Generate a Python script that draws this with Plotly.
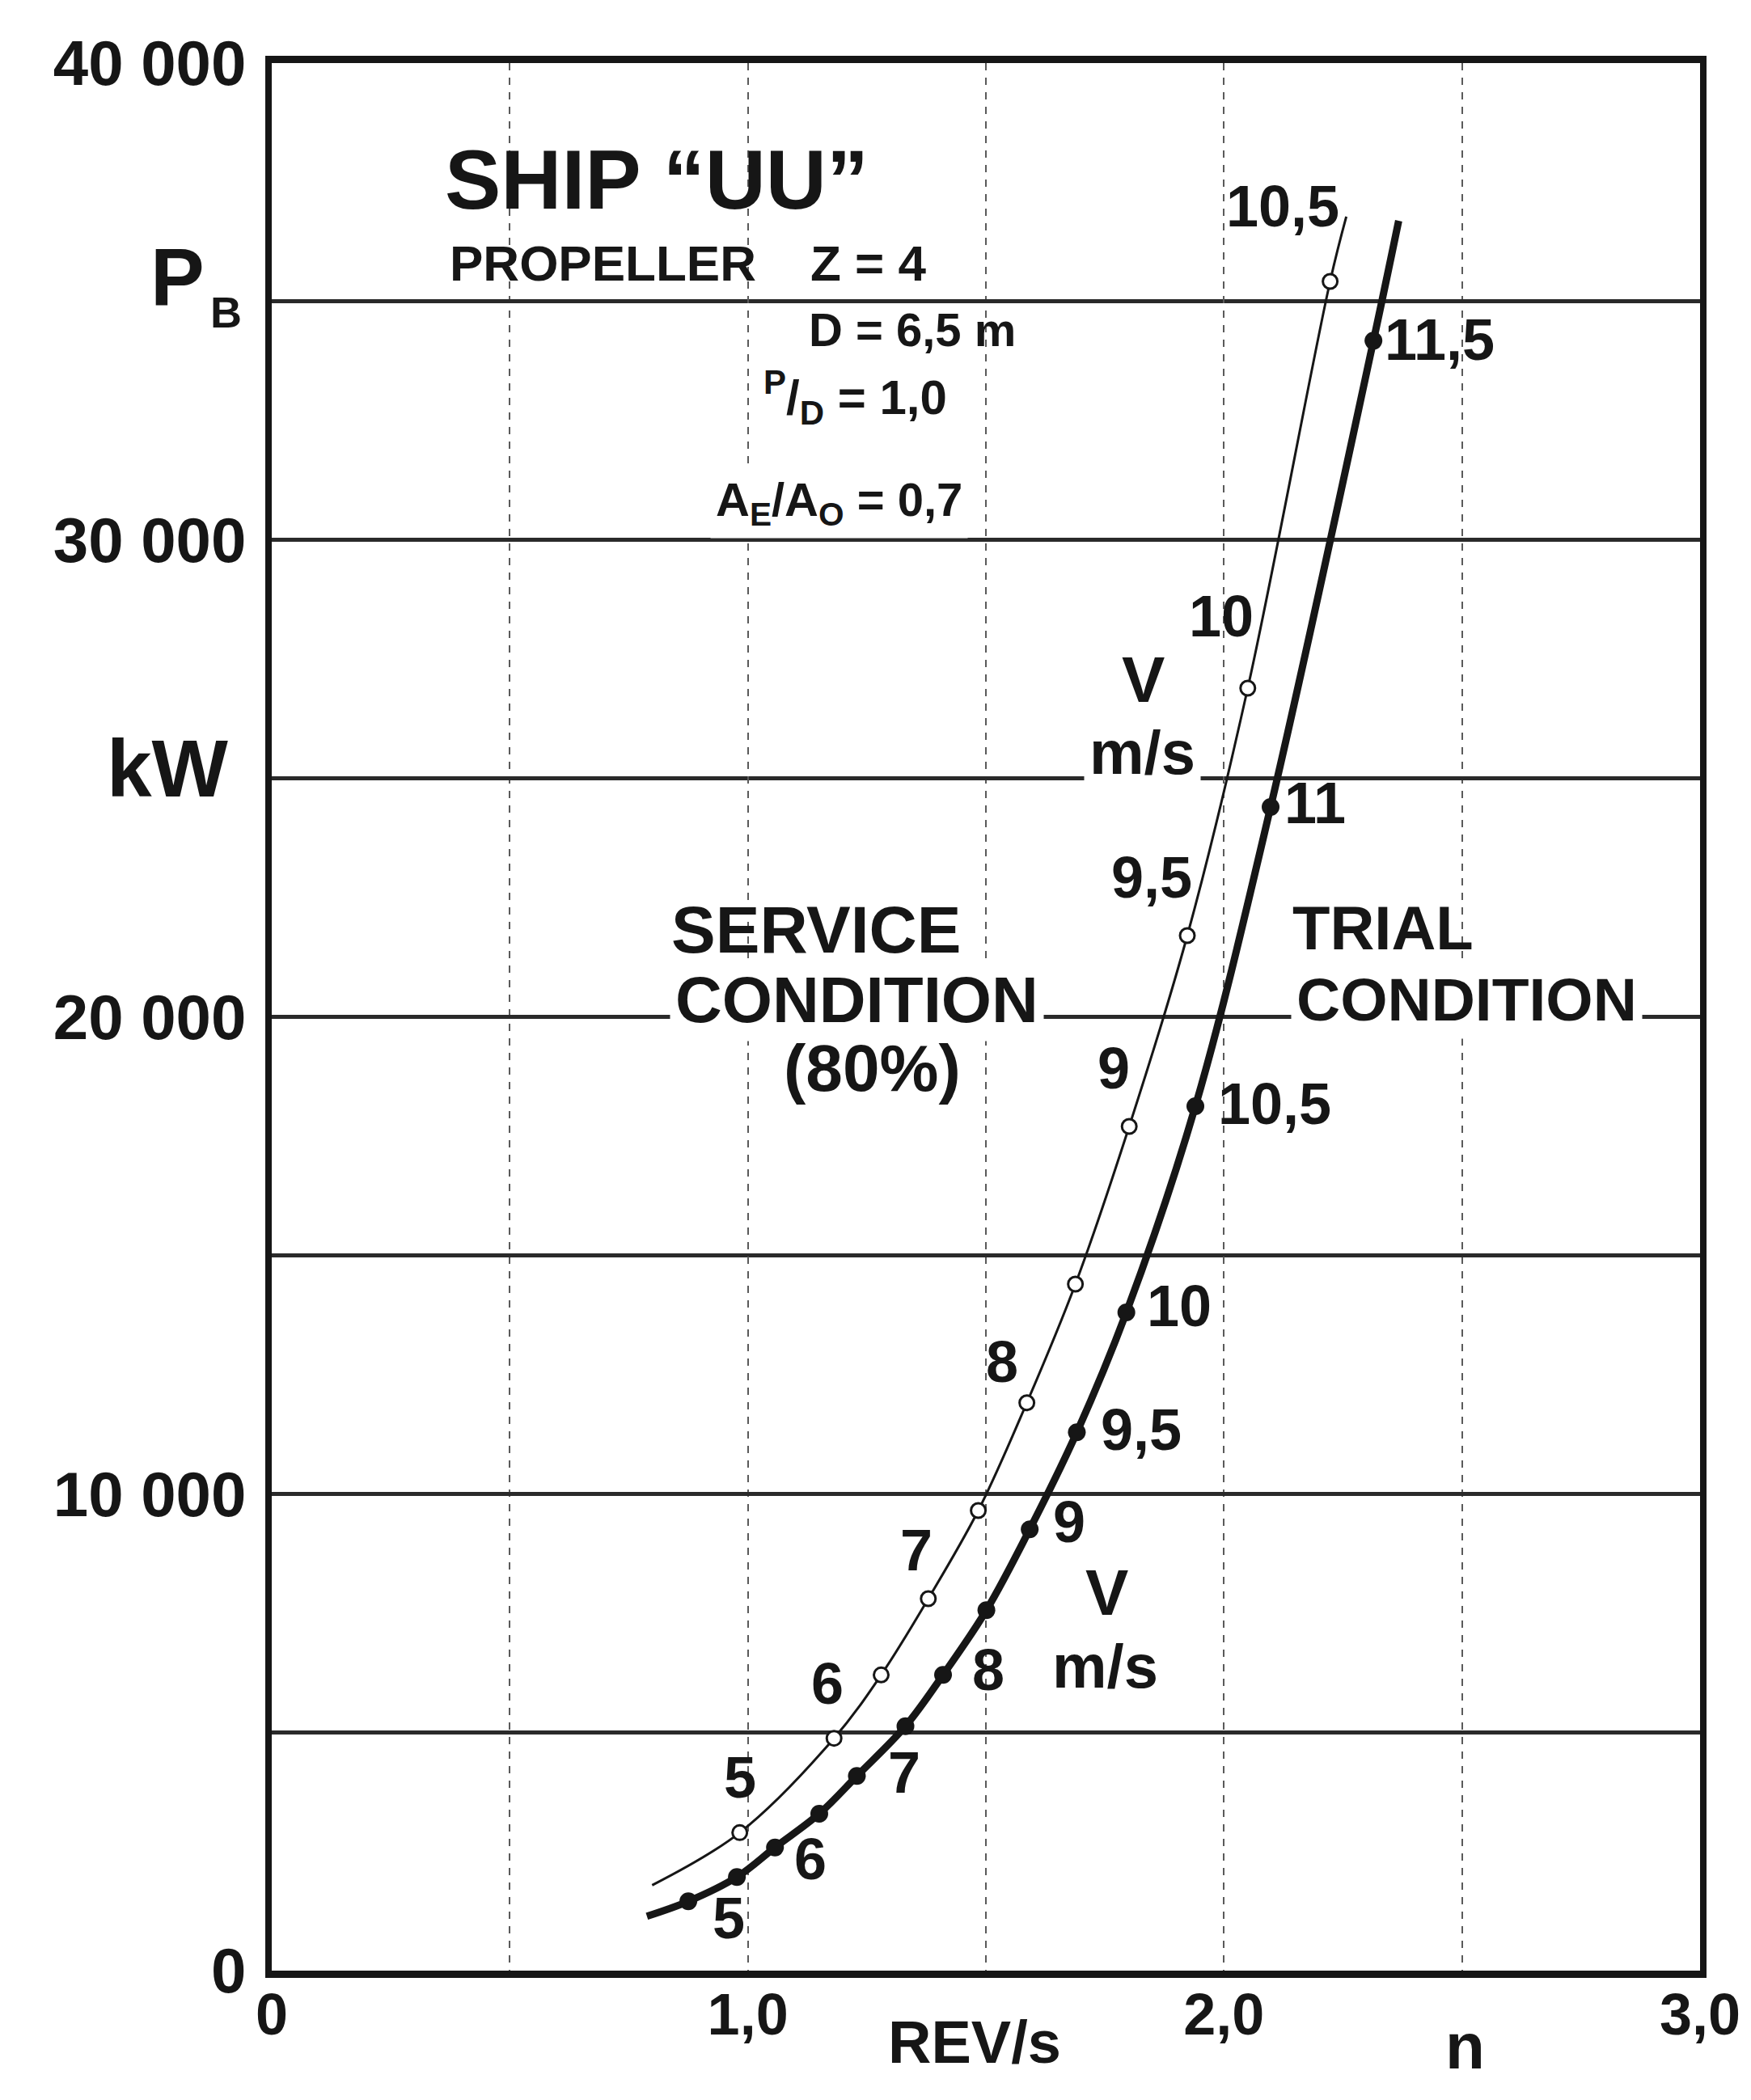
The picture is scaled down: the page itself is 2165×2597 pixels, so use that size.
import plotly.graph_objects as go

# ---------------- data ----------------
# Service condition (80%) : open markers, thin curve
service_n = [0.983, 1.181, 1.280, 1.379, 1.484, 1.586, 1.688, 1.801, 1.923, 2.050, 2.223]
service_P = [2894, 4872, 6201, 7800, 9648, 11908, 14396, 17703, 21704, 26893, 35422]
service_v = ["5", "6", "", "7", "", "8", "", "9", "9,5", "10", "10,5"]
service_curve_n = [0.799] + service_n + [2.257]
service_curve_P = [1792] + service_P + [36779]

# Trial condition : filled markers, thick curve
trial_n = [0.875, 0.977, 1.057, 1.150, 1.229, 1.331, 1.410, 1.501, 1.592, 1.691,
           1.795, 1.940, 2.098, 2.314]
trial_P = [1453, 1962, 2583, 3290, 4081, 5126, 6201, 7557, 9253, 11288,
           13802, 18126, 24400, 34178]
trial_v = ["5", "", "6", "", "7", "", "8", "", "9", "9,5", "10", "10,5", "11", "11,5"]
trial_curve_n = [0.788] + trial_n + [2.367]
trial_curve_P = [1141] + trial_P + [36694]

# axes
x_tickvals = [0, 1.0, 2.0, 3.0]
x_ticktext = ["0", "1,0", "2,0", "3,0"]
x_grid_step = 0.5
y_tickvals = [0, 10000, 20000, 30000, 40000]
y_ticktext = ["0", "10 000", "20 000", "30 000", "40 000"]
y_grid_step = 5000

# ---------------- layout / style ----------------
W, H = 2165, 2597
PL, PR, PT, PB = 328, 2094, 70, 2429
XMAX, YMAX = 3.0, 40000
TEXT_LIFT = 8  # px, compensates text-box centre vs cap centre

FONT = "Liberation Sans, Arial, sans-serif"
INK = "#161616"


def paper(px, py):
    return (px - PL) / (PR - PL), (PB - py) / (PB - PT)


# label offsets (pixels, screen: +dx right, +dy down) keyed by speed label
service_off = {"5": (0, -60), "6": (-8, -60), "7": (-15, -52), "8": (-31, -43),
               "9": (-19, -64), "9,5": (-44, -64), "10": (-33, -81), "10,5": (-59, -85)}
trial_off = {"5": (50, 29), "6": (44, 22), "7": (59, 4), "8": (56, 2), "9": (49, -1),
             "9,5": (80, 5), "10": (65, 0), "10,5": (98, 5), "11": (55, 3), "11,5": (82, 7)}

fig = go.Figure()

fig.add_trace(go.Scatter(x=service_curve_n, y=service_curve_P, mode="lines",
                         line=dict(color=INK, width=3, shape="spline", smoothing=1.0),
                         hoverinfo="skip"))
fig.add_trace(go.Scatter(x=trial_curve_n, y=trial_curve_P, mode="lines",
                         line=dict(color=INK, width=9, shape="spline", smoothing=1.0),
                         hoverinfo="skip"))
fig.add_trace(go.Scatter(x=service_n, y=service_P, mode="markers",
                         marker=dict(symbol="circle", size=18, color="white",
                                     line=dict(color=INK, width=3))))
fig.add_trace(go.Scatter(x=trial_n, y=trial_P, mode="markers",
                         marker=dict(symbol="circle", size=22, color=INK,
                                     line=dict(color=INK, width=0))))

LABEL_SIZE = 72
annotations = []
for ns, ps, vs, offs in ((service_n, service_P, service_v, service_off),
                         (trial_n, trial_P, trial_v, trial_off)):
    for n, p, v in zip(ns, ps, vs):
        if v:
            dx, dy = offs[v]
            annotations.append(dict(x=n, y=p, text=v, showarrow=False, xanchor="center",
                                    yanchor="middle", xshift=dx, yshift=-dy + TEXT_LIFT,
                                    font=dict(family=FONT, size=LABEL_SIZE, color=INK,
                                              weight="bold")))

texts = [
    # text, px, py, size, xanchor, white background
    ("SHIP \u201cUU\u201d", 540, 222, 104, "left", False),
    ("PROPELLER", 546, 326, 62, "left", False),
    ("Z = 4", 992, 326, 62, "left", False),
    ("D = 6,5 m", 990, 407, 58, "left", False),
    ("<sup>P</sup>/<sub>D</sub> = 1,0", 934, 492, 60, "left", False),
    ("A<sub>E</sub>/A<sub>O</sub> = 0,7", 870, 622, 58, "left", True),
    ("SERVICE", 820, 1149, 82, "left", False),
    ("CONDITION", 820, 1236, 80, "left", True),
    ("(80%)", 959, 1320, 82, "left", False),
    ("TRIAL", 1588, 1147, 76, "left", False),
    ("CONDITION", 1588, 1236, 75, "left", True),
    ("V", 1405, 840, 80, "center", False),
    ("m/s", 1404, 930, 76, "center", True),
    ("V", 1360, 1970, 80, "center", False),
    ("m/s", 1358, 2060, 76, "center", False),
    ("P", 176, 342, 100, "left", False),
    ("B", 250, 386, 54, "left", False),
    ("kW", 199, 950, 100, "center", False),
    ("REV/s", 1197, 2525, 74, "center", False),
    ("n", 1803, 2530, 80, "center", False),
]
for t, px, py, sz, xa, bg in texts:
    x, y = paper(px, py - TEXT_LIFT)
    a = dict(x=x, y=y, xref="paper", yref="paper", text=t, showarrow=False,
             xanchor=xa, yanchor="middle",
             font=dict(family=FONT, size=sz, color=INK, weight="bold"))
    if bg:
        a["bgcolor"] = "white"
        a["borderpad"] = 6
    annotations.append(a)

fig.update_layout(
    width=W, height=H,
    margin=dict(l=PL, r=W - PR, t=PT, b=H - PB),
    paper_bgcolor="white", plot_bgcolor="white",
    showlegend=False,
    annotations=annotations,
    xaxis=dict(range=[0, XMAX], tickvals=x_tickvals, ticktext=x_ticktext,
               showgrid=True, gridcolor="#5a5a5a", gridwidth=2, griddash="dash",
               minor=dict(dtick=x_grid_step, tick0=0, showgrid=True, gridcolor="#5a5a5a",
                          gridwidth=2, griddash="dash", ticks=""),
               zeroline=False, showline=True, linecolor=INK, linewidth=9, mirror=True,
               ticks="", ticklabelstandoff=-16,
               tickfont=dict(family=FONT, size=72, color=INK, weight="bold")),
    yaxis=dict(range=[0, YMAX], tickvals=y_tickvals, ticktext=y_ticktext,
               showgrid=True, gridcolor="#2a2a2a", gridwidth=5,
               minor=dict(dtick=y_grid_step, tick0=0, showgrid=True, gridcolor="#2a2a2a",
                          gridwidth=5, ticks=""),
               zeroline=False, showline=True, linecolor=INK, linewidth=8, mirror=True,
               ticks="", ticklabelstandoff=8,
               tickfont=dict(family=FONT, size=78, color=INK, weight="bold")),
)

fig.write_html("out.html")
